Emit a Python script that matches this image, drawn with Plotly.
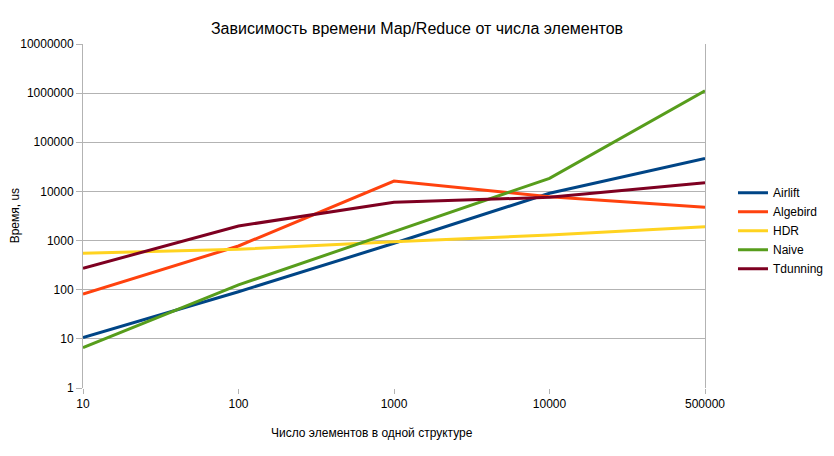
import plotly.graph_objects as go

categories = ["10", "100", "1000", "10000", "500000"]
airlift = [10.6, 91, 880, 9200, 47000]
algebird = [82, 776, 16300, 7800, 4750]
hdr = [550, 665, 950, 1300, 1920]
naive = [6.6, 125, 1520, 18500, 1120000]
tdunning = [273, 1980, 6000, 7600, 15000]

series = [
    ("Airlift", airlift, "#004586"),
    ("Algebird", algebird, "#ff420e"),
    ("HDR", hdr, "#ffd320"),
    ("Naive", naive, "#579d1c"),
    ("Tdunning", tdunning, "#7e0021"),
]

y_ticks = [1, 10, 100, 1000, 10000, 100000, 1000000, 10000000]

fig = go.Figure()
for name, vals, color in series:
    fig.add_trace(go.Scatter(x=categories, y=vals, name=name, mode="lines",
                             line=dict(color=color, width=3)))

font_family = "Liberation Sans, Arial, sans-serif"
off = 8  # page body margin
fig.update_layout(
    width=834, height=456,
    paper_bgcolor="white", plot_bgcolor="white",
    margin=dict(l=80 - off, r=129 + off, t=44 - off, b=68 + off),
    font=dict(family=font_family, size=12, color="black"),
    title=dict(text="Зависимость времени Map/Reduce от числа элементов",
               x=(417 - off) / 834, xref="container", xanchor="center",
               y=1 - (28 - off) / 456, yref="container", yanchor="middle",
               font=dict(size=16, family=font_family, color="black")),
    xaxis=dict(type="category", range=[0, 4], showgrid=False,
               showline=False, ticks="outside", ticklen=5, tickcolor="#b3b3b3",
               tickfont=dict(size=12), zeroline=False),
    yaxis=dict(type="log", range=[0, 7], tickvals=y_ticks,
               ticktext=[str(v) for v in y_ticks],
               showgrid=True, gridcolor="#b3b3b3", gridwidth=1,
               showline=True, linecolor="#b3b3b3", linewidth=1, mirror=True,
               ticks="outside", ticklen=6, tickcolor="#b3b3b3",
               tickfont=dict(size=12), zeroline=False),
    legend=dict(x=1.045, xanchor="left", y=0.61, yanchor="top",
                font=dict(size=12), bgcolor="rgba(0,0,0,0)",
                tracegroupgap=0, itemwidth=30),
    showlegend=True,
)

fig.add_annotation(text="Число элементов в одной структуре", xref="paper", yref="paper",
                   x=(370 - 80) / 625, y=-(433 - 388) / 344, xanchor="center", yanchor="middle",
                   showarrow=False, font=dict(size=12, family=font_family, color="black"))
fig.add_annotation(text="Время, us", xref="paper", yref="paper",
                   x=-(80 - 12) / 625, y=(388 - 216) / 344, xanchor="center", yanchor="middle",
                   textangle=-90, showarrow=False,
                   font=dict(size=12, family=font_family, color="black"))

fig.write_html("out.html")
